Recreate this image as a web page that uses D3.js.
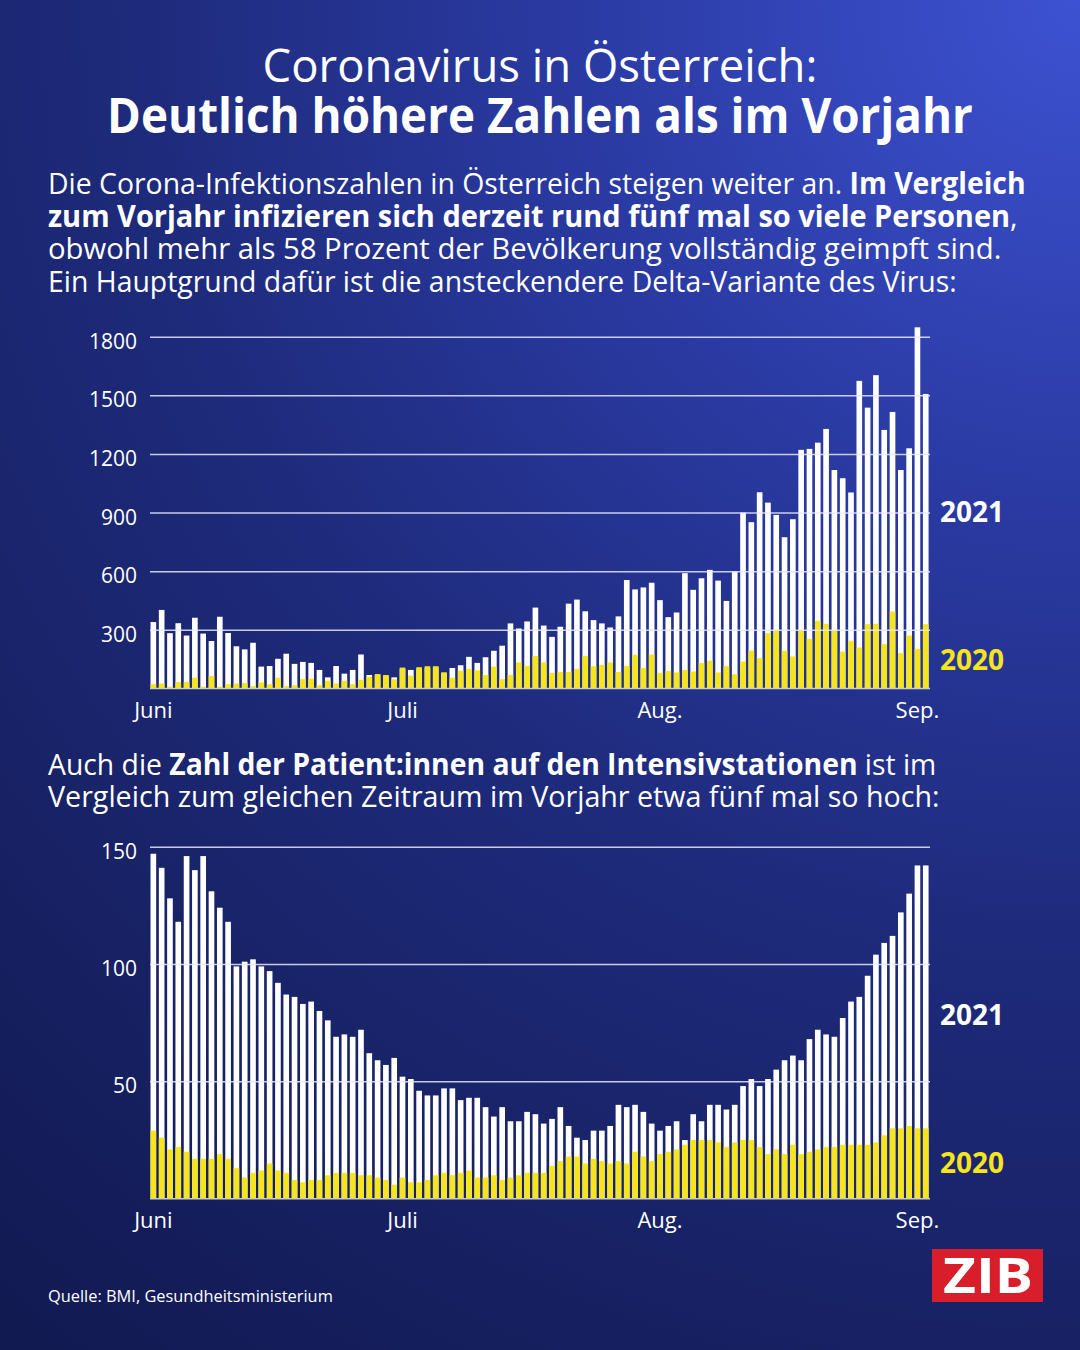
<!DOCTYPE html>
<html>
<head>
<meta charset="utf-8">
<script src="https://cdn.jsdelivr.net/npm/d3@7"></script>
<style>
  html, body { margin: 0; padding: 0; background: #1b2670; }
  svg { display: block; font-family: "Open Sans", "Noto Sans", sans-serif; }
  text { white-space: pre; }
</style>
</head>
<body>
<svg id="chart" width="1080" height="1350"></svg>
<script>
"use strict";

// categories: one bar per day, 1 June to 2 September
const dayKeys = d3.timeDay.range(new Date(2021, 5, 1), new Date(2021, 8, 3)).map(d3.timeFormat("%Y-%m-%d"));
const monthKeys = ["2021-06-01", "2021-07-01", "2021-08-01", "2021-09-01"];
const monthLabels = ["Juni", "Juli", "Aug.", "Sep."];
const seriesLabels = ["2021", "2020"];

// new infections per day
const cases2021 = [340, 402, 283, 334, 271, 362, 281, 243, 367, 284, 216, 200, 234, 112, 115, 152, 178, 126, 136, 131,
  95, 57, 115, 76, 95, 174, 69, 68, 63, 57, 100, 95, 100, 105, 108, 78, 105, 119, 162, 131,
  160, 193, 219, 333, 307, 343, 414, 322, 264, 316, 434, 455, 395, 350, 333, 312, 369, 555, 507, 517,
  541, 452, 365, 389, 590, 505, 564, 607, 552, 448, 598, 900, 851, 1004, 951, 888, 774, 866, 1221, 1226,
  1258, 1328, 1118, 1076, 1003, 1574, 1437, 1603, 1323, 1415, 1118, 1229, 1848, 1507];
const cases2020 = [22, 26, 9, 33, 34, 55, 9, 64, 9, 22, 26, 28, 12, 31, 22, 55, 12, 17, 48, 50,
  17, 40, 26, 40, 22, 45, 60, 74, 69, 47, 107, 66, 109, 114, 114, 83, 55, 91, 100, 93,
  69, 112, 48, 69, 133, 116, 167, 134, 79, 84, 84, 100, 167, 114, 121, 134, 84, 116, 172, 105,
  174, 80, 90, 82, 95, 87, 130, 142, 82, 116, 73, 138, 194, 155, 283, 300, 193, 164, 297, 254,
  346, 331, 300, 189, 244, 210, 329, 331, 228, 394, 181, 271, 203, 329];

// patients in intensive care
const icu2021 = [147, 141, 128, 118, 146, 140, 146, 131, 124, 118, 99, 101, 102, 99, 97, 92, 87, 86, 83, 84,
  80, 76, 69, 70, 69, 72, 62, 59, 57, 60, 52, 51, 46, 44, 44, 47, 47, 42, 43, 43,
  39, 35, 39, 33, 33, 37, 36, 32, 34, 39, 31, 26, 25, 29, 29, 31, 40, 39, 40, 37,
  32, 29, 31, 33, 25, 36, 33, 40, 40, 38, 40, 48, 51, 48, 51, 55, 59, 61, 59, 68,
  72, 70, 69, 77, 84, 86, 95, 104, 109, 112, 122, 130, 142, 142];
const icu2020 = [29, 26, 21, 22, 20, 17, 17, 17, 19, 17, 13, 9, 11, 12, 15, 12, 11, 8, 7, 8,
  8, 10, 11, 11, 11, 10, 10, 9, 8, 6, 9, 7, 7, 8, 10, 11, 10, 11, 12, 9,
  9, 10, 8, 9, 10, 11, 11, 11, 14, 16, 18, 18, 15, 17, 16, 15, 16, 15, 20, 18,
  16, 19, 20, 21, 23, 25, 25, 25, 24, 22, 24, 25, 25, 22, 19, 21, 19, 23, 19, 20,
  21, 22, 22, 23, 23, 23, 23, 24, 27, 30, 30, 31, 30, 30];

const caseTicks = [300, 600, 900, 1200, 1500, 1800];
const icuTicks = [50, 100, 150];

const introLines = [
  [["Die Corona-Infektionszahlen in Österreich steigen weiter an. ", false], ["Im Vergleich", true]],
  [["zum Vorjahr infizieren sich derzeit rund fünf mal so viele Personen", true], [",", false]],
  [["obwohl mehr als 58 Prozent der Bevölkerung vollständig geimpft sind.", false]],
  [["Ein Hauptgrund dafür ist die ansteckendere Delta-Variante des Virus:", false]]
];
const icuLines = [
  [["Auch die ", false], ["Zahl der Patient:innen auf den Intensivstationen", true], [" ist im", false]],
  [["Vergleich zum gleichen Zeitraum im Vorjahr etwa fünf mal so hoch:", false]]
];

const YELLOW = "#f6e41c";
const svg = d3.select("#chart");

// background
const grad = svg.append("defs").append("radialGradient")
  .attr("id", "bg").attr("gradientUnits", "userSpaceOnUse")
  .attr("cx", 1080).attr("cy", 0).attr("r", 1700);
[[0, "#3d52d2"], [0.3, "#2a3aa2"], [0.55, "#1e2b7c"], [0.8, "#172163"], [1, "#121a52"]]
  .forEach(s => grad.append("stop").attr("offset", s[0]).attr("stop-color", s[1]));
svg.append("rect").attr("width", 1080).attr("height", 1350).attr("fill", "url(#bg)");

// text line squeezed to a given width
function textLine(segments, x, y, width, size, anchor) {
  const t = svg.append("text")
    .attr("font-size", size)
    .attr("fill", "#fff")
    .attr("text-anchor", anchor || "start");
  segments.forEach(s => t.append("tspan").attr("font-weight", s[1] ? 700 : 400).text(s[0]));
  const w = t.node().getBBox().width;
  t.attr("transform", `translate(${x},${y}) scale(${width / w},1)`);
  return t;
}

textLine([["Coronavirus in Österreich:", false]], 540, 82, 555, 45, "middle");
textLine([["Deutlich höhere Zahlen als im Vorjahr", true]], 540, 133, 866, 49, "middle");

const introWidths = [978, 970, 954, 909];
introLines.forEach((line, i) => textLine(line, 48, 194 + i * 32.5, introWidths[i], 29.5));

const icuWidths = [889, 892];
icuLines.forEach((line, i) => textLine(line, 48, 775 + i * 32, icuWidths[i], 29.5));

function drawChart(cfg) {
  const x = d3.scaleBand()
    .domain(dayKeys)
    .range([149.2, 929.9])
    .paddingInner(0.32)
    .paddingOuter(0.16);
  const y = d3.scaleLinear()
    .domain([0, cfg.max])
    .range([cfg.bottom, cfg.top]);

  const g = svg.append("g");

  g.selectAll("rect.current")
    .data(cfg.current)
    .join("rect")
    .attr("class", "current")
    .attr("x", (d, i) => x(dayKeys[i]))
    .attr("y", d => y(d))
    .attr("width", x.bandwidth())
    .attr("height", d => y(0) - y(d))
    .attr("fill", "#fff");

  g.selectAll("rect.previous")
    .data(cfg.previous)
    .join("rect")
    .attr("class", "previous")
    .attr("x", (d, i) => x(dayKeys[i]))
    .attr("y", d => y(d))
    .attr("width", x.bandwidth())
    .attr("height", d => y(0) - y(d))
    .attr("fill", YELLOW);

  // grid lines and y labels, over the bars
  const yAxis = g.append("g")
    .attr("transform", "translate(150,0)")
    .call(d3.axisLeft(y).tickValues(cfg.ticks).tickFormat(d3.format("d")).tickSize(-780).tickPadding(13));
  yAxis.attr("font-family", null).attr("font-size", null);
  yAxis.select(".domain").remove();
  yAxis.selectAll(".tick line")
    .attr("stroke", "#e6e9fb")
    .attr("stroke-width", 1.5)
    .attr("opacity", 0.85);
  yAxis.selectAll(".tick text")
    .attr("fill", "#fff")
    .attr("font-size", 21)
    .attr("dy", "0.55em");

  g.append("line")
    .attr("x1", 150).attr("x2", 930)
    .attr("y1", y(0)).attr("y2", y(0))
    .attr("stroke", "#cfcfbd")
    .attr("stroke-width", 1.5);

  const xAxis = g.append("g")
    .attr("transform", `translate(0,${y(0)})`)
    .call(d3.axisBottom(x).tickValues(monthKeys).tickFormat((d, i) => monthLabels[i]).tickSize(0).tickPadding(14));
  xAxis.attr("font-family", null).attr("font-size", null);
  xAxis.select(".domain").remove();
  xAxis.selectAll(".tick text")
    .attr("fill", "#fff")
    .attr("font-size", 22);

  g.append("text")
    .attr("x", 940).attr("y", cfg.legendY[0])
    .attr("font-size", 28).attr("font-weight", 700)
    .attr("fill", "#fff")
    .text(seriesLabels[0]);
  g.append("text")
    .attr("x", 940).attr("y", cfg.legendY[1])
    .attr("font-size", 28).attr("font-weight", 700)
    .attr("fill", YELLOW)
    .text(seriesLabels[1]);
}

drawChart({ current: cases2021, previous: cases2020, ticks: caseTicks, max: 1800,
  top: 336.7, bottom: 688.5, legendY: [522, 670] });
drawChart({ current: icu2021, previous: icu2020, ticks: icuTicks, max: 150,
  top: 846.7, bottom: 1198.7, legendY: [1025, 1173] });

// source and logo
textLine([["Quelle: BMI, Gesundheitsministerium", false]], 48, 1302, 285, 16);
svg.append("rect")
  .attr("x", 932).attr("y", 1249)
  .attr("width", 111).attr("height", 53)
  .attr("fill", "#d81e2b");
textLine([["ZIB", true]], 988, 1293, 90, 48, "middle").attr("font-weight", 800);
</script>
</body>
</html>
